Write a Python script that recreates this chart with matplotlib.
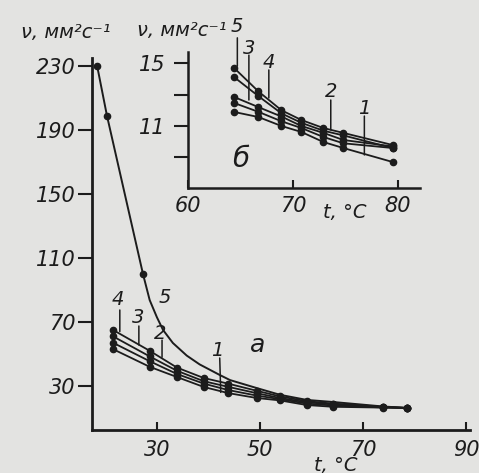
import matplotlib.pyplot as plt

BG = "#e3e3e1"
INK = "#1c1c1c"

# main plot (a): curves 1-4 and 5
T_MAIN = [21.5, 28.6, 33.9, 39.1, 43.8, 49.4, 53.9, 59.1, 64.2, 73.9, 78.5]
NU_MAIN_4 = [65, 52, 41.5, 35, 31.5, 27, 23.5, 20.5, 19, 17, 16.3]
NU_MAIN_3 = [61, 48.5, 39.5, 33, 29.5, 25.5, 22.5, 19.8, 18.5, 16.8, 16.3]
NU_MAIN_2 = [57, 45.5, 37.5, 31.5, 27.5, 24, 21.8, 19, 17.8, 16.6, 16.3]
NU_MAIN_1 = [53, 42, 35.6, 29.4, 25.6, 22.5, 21, 18.1, 17, 16.5, 16.3]

T_MAIN_5 = [18.4, 20.3, 27.3, 28.6, 30.0, 31.2, 33.1, 35.8, 38.3, 42.2,
            44.2, 49.4, 53.9, 59.1, 64.2, 73.9, 78.5]
NU_MAIN_5 = [230, 199, 100, 83.7, 73, 65, 56.9, 49, 43.5, 36.9,
             33.7, 28.7, 24.5, 21.3, 20, 17.2, 16.3]

# inset (b): 60-80 C
T_INSET = [64.4, 66.7, 68.9, 70.8, 72.9, 74.8, 79.5]
NU_INSET_5 = [14.68, 13.2, 12.0, 11.38, 10.87, 10.56, 9.79]
NU_INSET_3 = [14.1, 12.9, 11.8, 11.2, 10.7, 10.4, 9.6]
NU_INSET_4 = [12.84, 12.2, 11.6, 11.0, 10.56, 10.11, 9.7]
NU_INSET_2 = [12.46, 11.9, 11.3, 10.87, 10.3, 9.9, 9.6]
NU_INSET_1 = [11.89, 11.57, 11.0, 10.62, 9.98, 9.6, 8.71]

MAIN_XTICKS = [30, 50, 70, 90]
MAIN_YTICKS = [30, 70, 110, 150, 190, 230]
INSET_XTICKS = [60, 70, 80]
INSET_YTICKS = [9, 11, 13, 15]
INSET_YTICK_LABELS = ["", "11", "", "15"]

W, H = 479, 473


def px(x, y):
    return x / W, 1 - y / H


def style_axes(ax, lw):
    ax.set_facecolor("none")
    for side in ("top", "right"):
        ax.spines[side].set_visible(False)
    for side in ("left", "bottom"):
        ax.spines[side].set_linewidth(lw)
        ax.spines[side].set_color(INK)


fig = plt.figure(figsize=(W / 100, H / 100), dpi=100, facecolor=BG)
text_kw = dict(color=INK, fontstyle="italic", family="DejaVu Sans")

# ---- main axes ----
ax = fig.add_axes([92 / W, 1 - 430 / H, (470 - 92) / W, (430 - 58) / H])
style_axes(ax, 2.0)
ax.set_xlim(17.4, 90.8)
ax.set_ylim(2.5, 235)
ax.set_xticks(MAIN_XTICKS)
ax.set_yticks(MAIN_YTICKS)
ax.tick_params(axis="y", direction="out", length=10, width=1.5, colors=INK,
               labelsize=15, pad=2)
ax.tick_params(axis="x", direction="in", length=6, width=1.5, colors=INK,
               labelsize=15, pad=7)
for lab in ax.get_xticklabels() + ax.get_yticklabels():
    lab.set_fontstyle("italic")

for nu in (NU_MAIN_1, NU_MAIN_2, NU_MAIN_3, NU_MAIN_4):
    ax.plot(T_MAIN, nu, color=INK, lw=1.3, marker="o", ms=4.5, mfc=INK, mec=INK)
ax.plot(T_MAIN_5, NU_MAIN_5, color=INK, lw=1.4, marker="o", ms=4.5,
        markevery=[0, 1, 2, 16], mfc=INK, mec=INK)

leader = dict(arrowstyle="-", color=INK, lw=1.1, shrinkA=0, shrinkB=0)
for label, txt_pos, start, end in [
    ("4", (22.4, 84), (22.8, 77.5), (22.8, 64)),
    ("3", (26.3, 73), (26.5, 67.5), (26.5, 55.6)),
    ("2", (30.6, 63), (31.0, 58.7), (31.0, 48)),
    ("1", (41.8, 52.5), (42.2, 47.5), (42.4, 26)),
]:
    ax.text(*txt_pos, label, fontsize=14, ha="center", va="center", **text_kw)
    ax.annotate("", xy=end, xytext=start, arrowprops=leader)
ax.text(31.6, 85.6, "5", fontsize=14, ha="center", va="center", **text_kw)
ax.text(49.6, 55.6, "а", fontsize=18, ha="center", va="center", **text_kw)

# ---- inset axes ----
ins = fig.add_axes([188 / W, 1 - 188 / H, (420 - 188) / W, (188 - 52) / H])
style_axes(ins, 1.8)
ins.set_xlim(60, 82.1)
ins.set_ylim(7.06, 15.7)
ins.set_xticks(INSET_XTICKS)
ins.set_yticks(INSET_YTICKS)
ins.set_yticklabels(INSET_YTICK_LABELS)
ins.tick_params(axis="y", direction="out", length=10, width=1.5, colors=INK,
                labelsize=15, pad=6)
ins.tick_params(axis="x", direction="in", length=6, width=1.5, colors=INK,
                labelsize=15, pad=6)
for lab in ins.get_xticklabels() + ins.get_yticklabels():
    lab.set_fontstyle("italic")

for nu in (NU_INSET_1, NU_INSET_2, NU_INSET_3, NU_INSET_4, NU_INSET_5):
    ins.plot(T_INSET, nu, color=INK, lw=1.3, marker="o", ms=4.5, mfc=INK, mec=INK)

for label, txt_pos, start, end in [
    ("3", (65.8, 15.95), (65.8, 15.5), (65.8, 12.65)),
    ("4", (67.7, 15.06), (67.7, 14.56), (67.7, 12.78)),
    ("2", (73.6, 13.16), (73.6, 12.65), (73.6, 10.75)),
    ("1", (76.8, 12.14), (76.8, 11.63), (76.8, 9.16)),
]:
    ins.text(*txt_pos, label, fontsize=14, ha="center", va="center", clip_on=False, **text_kw)
    ins.annotate("", xy=end, xytext=start, arrowprops=leader, annotation_clip=False)
ins.annotate("", xy=(64.7, 14.8), xytext=(64.7, 16.6), arrowprops=leader,
             annotation_clip=False)
ins.text(65.0, 8.9, "б", fontsize=20, ha="center", va="center", **text_kw)

# ---- axis titles ----
fig.text(*px(66, 32), "ν, мм²с⁻¹", fontsize=14, ha="center", va="center", **text_kw)
fig.text(*px(182, 30), "ν, мм²с⁻¹", fontsize=14, ha="center", va="center", **text_kw)
fig.text(*px(237, 26), "5", fontsize=14, ha="center", va="center", **text_kw)
fig.text(*px(345, 213), "t, °C", fontsize=14, ha="center", va="center", **text_kw)
fig.text(*px(336, 465), "t, °C", fontsize=14, ha="center", va="center", **text_kw)

fig.savefig("out.png", dpi=100, facecolor=BG)
